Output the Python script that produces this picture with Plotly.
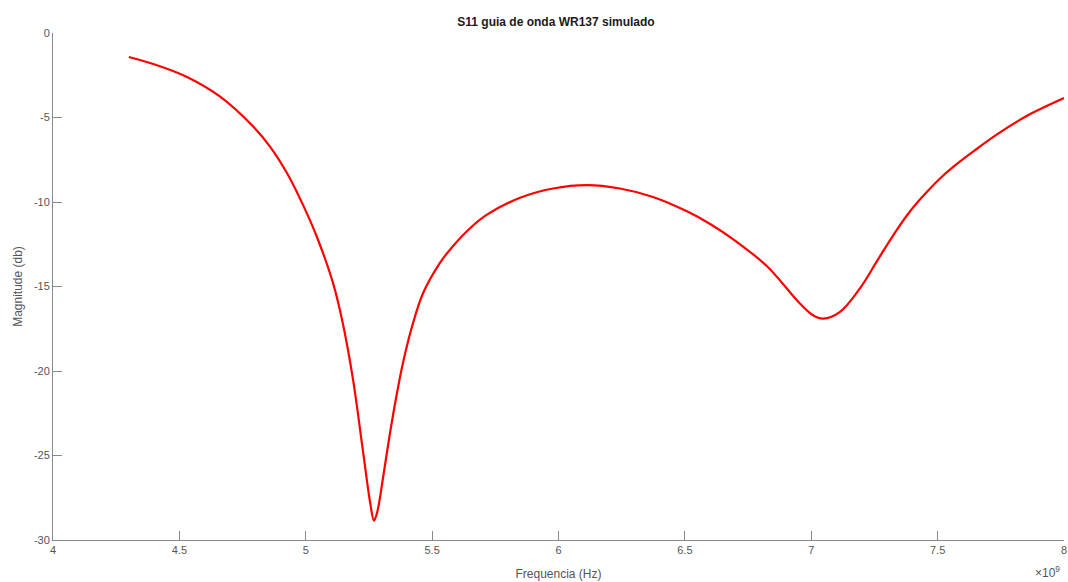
import plotly.graph_objects as go

freq_ghz = [4.30, 4.40, 4.53, 4.66, 4.79, 4.86, 4.93, 4.99, 5.045, 5.108, 5.147, 5.187,
            5.227, 5.255, 5.270, 5.282, 5.306, 5.333, 5.361, 5.385, 5.420, 5.464, 5.531,
            5.583, 5.650, 5.717, 5.848, 5.978, 6.113, 6.243, 6.374, 6.508, 6.600, 6.700,
            6.825, 6.955, 7.007, 7.047, 7.114, 7.193, 7.260, 7.323, 7.391, 7.458, 7.521,
            7.589, 7.656, 7.735, 7.854, 8.000]
s11_db = [-1.42, -1.85, -2.6, -3.75, -5.5, -6.75, -8.4, -10.2, -12.1, -14.8, -17.2, -20.5,
          -24.8, -27.8, -28.85, -28.4, -26.3, -23.7, -21.3, -19.5, -17.4, -15.4, -13.6,
          -12.6, -11.55, -10.75, -9.75, -9.2, -9.0, -9.2, -9.7, -10.55, -11.3, -12.3,
          -13.8, -16.0, -16.7, -16.9, -16.5, -15.1, -13.5, -12.0, -10.55, -9.4, -8.45,
          -7.6, -6.85, -6.0, -4.9, -3.85]

x_tick_vals = [4.0, 4.5, 5.0, 5.5, 6.0, 6.5, 7.0, 7.5, 8.0]
x_tick_text = ["4", "4.5", "5", "5.5", "6", "6.5", "7", "7.5", "8"]
y_tick_vals = [0, -5, -10, -15, -20, -25, -30]
y_tick_text = ["0", "-5", "-10", "-15", "-20", "-25", "-30"]

freq_hz = [f * 1e9 for f in freq_ghz]

fig = go.Figure()
fig.add_trace(go.Scatter(x=freq_hz, y=s11_db, mode="lines",
                         line=dict(color="#ff0000", width=2.2, shape="spline", smoothing=1.0),
                         showlegend=False, hoverinfo="skip"))

axis_col = "#8a8a8a"
label_col = "#555555"
font_family = "Liberation Sans, Arial, sans-serif"

W, H = 1068, 582

fig.update_layout(
    width=W, height=H,
    margin=dict(l=53, r=4, t=33, b=42),
    paper_bgcolor="white", plot_bgcolor="white",
    font=dict(family=font_family, size=11, color=label_col),
    title=dict(text="<b>S11 guia de onda WR137 simulado</b>", x=556 / W, xanchor="center",
               y=1 - 22 / H, yanchor="middle",
               font=dict(size=12, color="#1a1a1a", family=font_family)),
    xaxis=dict(range=[4e9, 8e9], tickvals=[v * 1e9 for v in x_tick_vals], ticktext=x_tick_text,
               showgrid=False, zeroline=False, showline=True, linecolor=axis_col, linewidth=1,
               ticks="inside", ticklen=9, tickcolor=axis_col, tickwidth=1, automargin=False,
               ticklabeloverflow="allow",
               tickfont=dict(size=11, color=label_col),
               title=dict(text="Frequencia (Hz)", standoff=14, font=dict(size=12, color=label_col))),
    yaxis=dict(range=[-30, 0], tickvals=y_tick_vals, ticktext=y_tick_text,
               showgrid=False, zeroline=False, showline=True, linecolor=axis_col, linewidth=1,
               ticks="inside", ticklen=9, tickcolor=axis_col, tickwidth=1, automargin=False,
               tickfont=dict(size=11, color=label_col),
               title=dict(text="Magnitude (db)", standoff=8, font=dict(size=12, color=label_col))),
)

fig.add_annotation(text="\u00d710<sup>9</sup>", xref="paper", yref="paper", x=1.0, y=0,
                   xanchor="right", yanchor="bottom", yshift=-42, xshift=-2, showarrow=False,
                   font=dict(size=12, color=label_col, family=font_family))

fig.write_html("out.html", config={"displayModeBar": False},
               post_script="document.body.style.margin='0';document.body.style.overflow='hidden';")
